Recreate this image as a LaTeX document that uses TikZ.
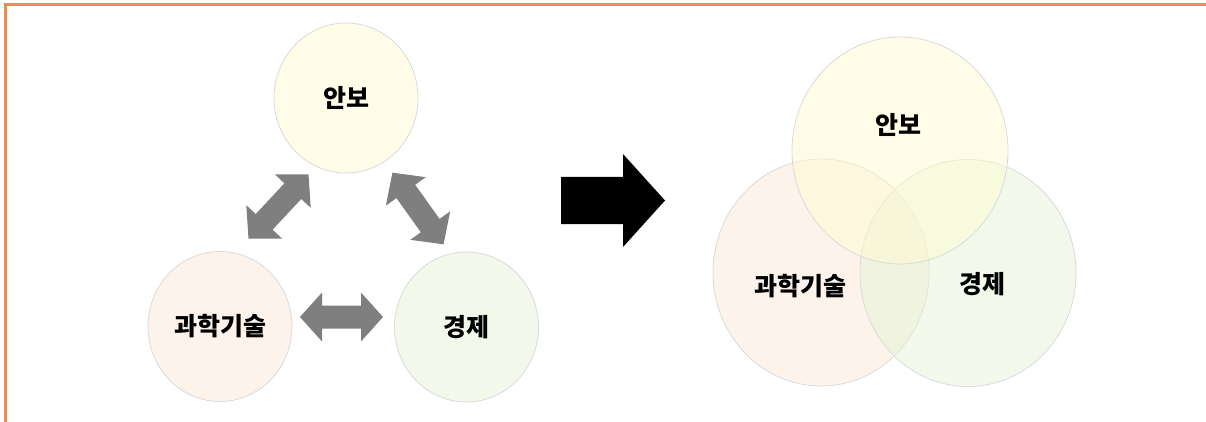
\documentclass[tikz,border=0pt]{standalone}
\usepackage{fontspec}
\newfontfamily\kor{Noto Sans CJK KR}
\usetikzlibrary{shapes.geometric}
\definecolor{framecol}{RGB}{241,136,86}
\definecolor{anbocol}{RGB}{255,253,232}
\definecolor{gwahakcol}{RGB}{253,243,235}
\definecolor{gyeongjecol}{RGB}{242,249,235}
\definecolor{anbodeep}{RGB}{255,251,209}
\definecolor{gwahakdeep}{RGB}{251,231,215}
\definecolor{gyeongjedeep}{RGB}{229,243,215}
\definecolor{linkgray}{RGB}{127,127,127}
\definecolor{rimgray}{RGB}{218,218,218}

\begin{document}
\begin{tikzpicture}[x=1pt,y=-1pt,
	word/.style={font=\kor\bfseries\fontsize{25}{30}\selectfont, inner sep=0pt},
	small/.style={ellipse, draw=rimgray, line width=0.8pt, minimum width=144pt, minimum height=150pt, word},
	big/.style={ellipse, draw=rimgray, line width=0.8pt, fill opacity=0.5, minimum width=216pt, minimum height=227pt},
	link/.style={fill=linkgray}]
	\useasboundingbox (0,0) rectangle (1206,422);
	\draw[framecol, line width=2.8pt] (5.6,422) -- (5.6,4.7) -- (1206,4.7);
	% three separate topics
	\node[small, fill=anbocol] (anbo) at (346,98) {안보};
	\node[small, fill=gwahakcol] (gwahak) at (220,326.5) {과학기술};
	\node[small, fill=gyeongjecol] (gyeongje) at (466.5,327) {경제};
	\fill[link, shift={(341.5,317)}] (-41.5,0) -- (-19.5,-24.5) -- (-19.5,-11.5) -- (19.5,-11.5) -- (19.5,-24.5) -- (41.5,0) -- (19.5,24.5) -- (19.5,11.5) -- (-19.5,11.5) -- (-19.5,24.5) -- cycle;
	\fill[link, shift={(278.5,206.5)}, rotate=47] (-44,0) -- (-21,-24.5) -- (-21,-11.5) -- (21,-11.5) -- (21,-24.5) -- (44,0) -- (21,24.5) -- (21,11.5) -- (-21,11.5) -- (-21,24.5) -- cycle;
	\fill[link, shift={(418,208.5)}, rotate=-54.5] (-44,0) -- (-21,-24.5) -- (-21,-11.5) -- (21,-11.5) -- (21,-24.5) -- (44,0) -- (21,24.5) -- (21,11.5) -- (-21,11.5) -- (-21,24.5) -- cycle;
	% big arrow
	\fill (561,177) -- (623,177) -- (623,154) -- (665,200.5) -- (623,247) -- (623,224) -- (561,224) -- cycle;
	% overlapping topics
	\node[big, fill=gwahakdeep] (gwahakV) at (821,272.5) {};
	\node[big, fill=gyeongjedeep] (gyeongjeV) at (968,273) {};
	\node[big, fill=anbodeep] (anboV) at (900,150.5) {};
	\node[word] at (898.5,125) {안보};
	\node[word] at (800,286.5) {과학기술};
	\node[word] at (982.5,284) {경제};
\end{tikzpicture}
\end{document}
